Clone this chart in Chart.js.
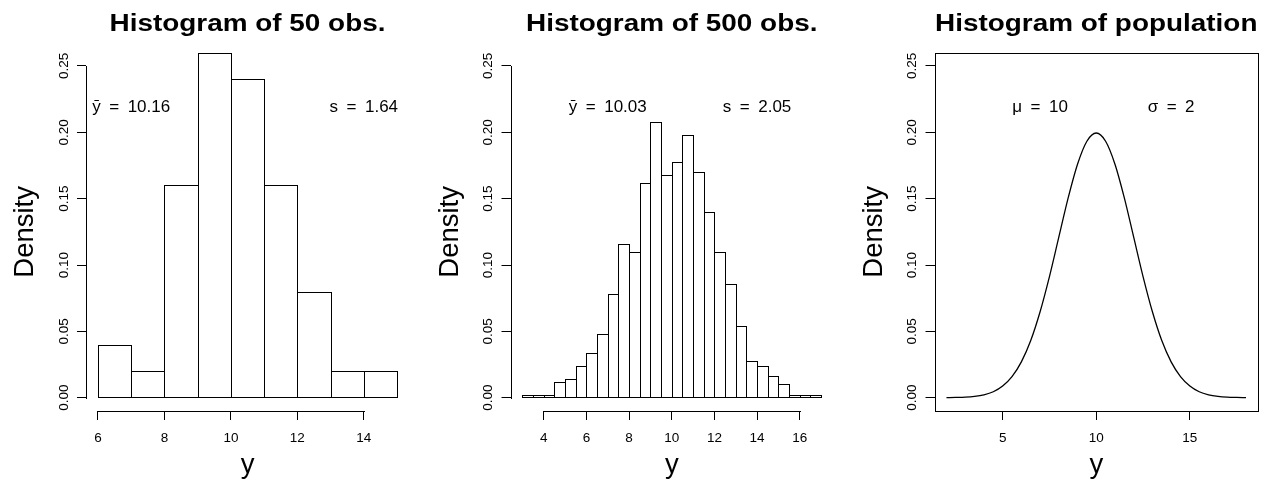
<!DOCTYPE html>
<html><head><meta charset="utf-8">
<script src="https://cdn.jsdelivr.net/npm/chart.js@4.4.1/dist/chart.umd.min.js"></script>
<style>
html,body{margin:0;padding:0;background:#fff;}
#wrap{position:relative;width:1270px;height:482px;overflow:hidden;background:#fff;}
.panel{position:absolute;top:0;left:0;width:1270px;height:482px;}
</style></head><body>
<div id="wrap">
<canvas class="panel" id="c1" width="1270" height="482"></canvas>
<canvas class="panel" id="c2" width="1270" height="482"></canvas>
<canvas class="panel" id="c3" width="1270" height="482"></canvas>
</div>
<script>
// ---------------- data ----------------
const breaks50 = [6,7,8,9,10,11,12,13,14,15];
const density50 = [0.04,0.02,0.16,0.26,0.24,0.16,0.08,0.02,0.02];

const breaks500 = [3,3.5,4,4.5,5,5.5,6,6.5,7,7.5,8,8.5,9,9.5,10,10.5,11,11.5,12,12.5,13,13.5,14,14.5,15,15.5,16,16.5,17];
const density500 = [0.002,0.002,0.002,0.012,0.014,0.024,0.034,0.048,0.078,0.116,0.110,0.162,0.208,0.168,0.178,0.198,0.170,0.140,0.110,0.086,0.054,0.028,0.024,0.016,0.010,0.002,0.002,0.002];

const popX = [2,2.5,3,3.5,4,4.5,5,5.5,6,6.5,7,7.5,8,8.5,9,9.5,10,10.5,11,11.5,12,12.5,13,13.5,14,14.5,15,15.5,16,16.5,17,17.5,18];
const popDensity = [0.0001,0.0002,0.0004,0.0010,0.0022,0.0045,0.0088,0.0159,0.0270,0.0431,0.0648,0.0913,0.1210,0.1506,0.1760,0.1933,0.1995,0.1933,0.1760,0.1506,0.1210,0.0913,0.0648,0.0431,0.0270,0.0159,0.0088,0.0045,0.0022,0.0010,0.0004,0.0002,0.0001];

const xTicks50 = [6,8,10,12,14];
const xTicks500 = [4,6,8,10,12,14,16];
const xTicksPop = [5,10,15];
const yTicks = [0,0.05,0.10,0.15,0.20,0.25];

const titles = ['Histogram of 50 obs.','Histogram of 500 obs.','Histogram of population'];
const notes50 = [{x:7,y:0.22,t:'ȳ\u2002=\u200210.16'},{x:14,y:0.22,t:'s\u2002=\u20021.64'}];
const notes500 = [{x:7,y:0.22,t:'ȳ\u2002=\u200210.03'},{x:14,y:0.22,t:'s\u2002=\u20022.05'}];
const notesPop = [{x:7,y:0.22,t:'μ\u2002=\u200210'},{x:14,y:0.22,t:'σ\u2002=\u20022'}];

// ---------------- helpers ----------------
const FONT = '"Liberation Sans", Arial, Helvetica, sans-serif';
function histPoints(breaks, dens){
  return dens.map((d,i)=>({x:(breaks[i]+breaks[i+1])/2, y:d}));
}

const rPlugin = {
  id:'rstyle',
  afterDatasetsDraw(chart, args, o){
    if(!o.outline) return;
    const ctx=chart.ctx;
    ctx.save(); ctx.strokeStyle='#000'; ctx.lineWidth=1;
    chart.getDatasetMeta(0).data.forEach(el=>{
      const p=el.getProps(['x','y','base','width'],true);
      const l=Math.round(p.x-p.width/2), r=Math.round(p.x+p.width/2);
      const t=Math.round(p.y), b=Math.round(p.base);
      ctx.strokeRect(l+0.5,t+0.5,r-l,b-t);
    });
    ctx.restore();
  },
  afterDraw(chart, args, o){
    const {ctx, chartArea:a, scales:{x,y}} = chart;
    ctx.save();
    ctx.strokeStyle='#000'; ctx.fillStyle='#000'; ctx.lineWidth=1;
    const line=(x1,y1,x2,y2)=>{ctx.beginPath();ctx.moveTo(x1,y1);ctx.lineTo(x2,y2);ctx.stroke();};
    const bx=Math.round(a.bottom)+0.5, lx=Math.round(a.left)+0.5;
    if(o.box){
      ctx.strokeRect(lx, Math.round(a.top)+0.5, Math.round(a.right)-Math.round(a.left), Math.round(a.bottom)-Math.round(a.top));
    } else {
      const xt=o.xTicks;
      line(Math.round(x.getPixelForValue(xt[0])), bx, Math.round(x.getPixelForValue(xt[xt.length-1]))+1, bx);
      line(lx, Math.round(y.getPixelForValue(yTicks[0]))+1, lx, Math.round(y.getPixelForValue(yTicks[yTicks.length-1])));
    }
    // x tick labels
    ctx.font='13.5px '+FONT; ctx.textAlign='center'; ctx.textBaseline='alphabetic';
    o.xTicks.forEach(v=>ctx.fillText(String(v), x.getPixelForValue(v), a.bottom+30.5));
    // y tick labels (rotated)
    yTicks.forEach(v=>{
      ctx.save(); ctx.translate(a.left-18.5, y.getPixelForValue(v)); ctx.rotate(-Math.PI/2);
      ctx.fillText(v.toFixed(2),0,0); ctx.restore();
    });
    // axis titles
    ctx.font='27.5px '+FONT;
    ctx.fillText('y', (a.left+a.right)/2, a.bottom+61.5);
    ctx.save(); ctx.translate(a.left-52.7, (y.getPixelForValue(yTicks[0])+y.getPixelForValue(yTicks[yTicks.length-1]))/2);
    ctx.rotate(-Math.PI/2); ctx.fillText('Density',0,0); ctx.restore();
    // main title
    ctx.save(); ctx.font='bold 24.7px '+FONT; ctx.translate((a.left+a.right)/2, 31); ctx.scale(1.13,1);
    ctx.fillText(o.title,0,0); ctx.restore();
    // annotations
    ctx.font='17px '+FONT;
    o.notes.forEach(n=>ctx.fillText(n.t, x.getPixelForValue(n.x), y.getPixelForValue(n.y)+6));
    ctx.restore();
  }
};

function scales(xmin,xmax,xTicks){
  const grid={display:true,drawOnChartArea:false,drawTicks:true,tickLength:9,color:'#000',lineWidth:1,offset:false};
  return {
    x:{type:'linear',min:xmin,max:xmax,offset:false,grid:grid,border:{display:false},
       ticks:{display:false},
       afterBuildTicks:s=>{s.ticks=xTicks.map(v=>({value:v}));},
       afterFit:s=>{s.height=0;}},
    y:{type:'linear',min:-0.01,max:0.26,grid:grid,border:{display:false},
       ticks:{display:false},
       afterBuildTicks:s=>{s.ticks=yTicks.map(v=>({value:v}));},
       afterFit:s=>{s.width=0;}}
  };
}
function pad(left,right){ return {left:left, right:1270-right, top:52.7, bottom:482-411}; }

function histChart(id, breaks, dens, xmin, xmax, xTicks, left, right, title, notes){
  return new Chart(document.getElementById(id),{
    type:'bar',
    data:{datasets:[{data:histPoints(breaks,dens),backgroundColor:'#fff',borderColor:'#000',
      borderWidth:0,barPercentage:1,categoryPercentage:1,inflateAmount:0}]},
    options:{responsive:false,animation:false,events:[],
      layout:{padding:pad(left,right)},
      scales:scales(xmin,xmax,xTicks),
      plugins:{legend:{display:false},tooltip:{enabled:false},
        rstyle:{xTicks:xTicks,title:title,notes:notes,box:false,outline:true}}},
    plugins:[rPlugin]
  });
}

histChart('c1', breaks50, density50, 5.64, 15.36, xTicks50, 86, 409, titles[0], notes50);
histChart('c2', breaks500, density500, 2.44, 17.56, xTicks500, 510.5, 833, titles[1], notes500);

new Chart(document.getElementById('c3'),{
  type:'line',
  data:{datasets:[{data:popX.map((v,i)=>({x:v,y:popDensity[i]})),borderColor:'#000',borderWidth:1.3,
    pointRadius:0,fill:false,cubicInterpolationMode:'monotone'}]},
  options:{responsive:false,animation:false,events:[],
    layout:{padding:pad(934.5,1258)},
    scales:scales(1.36,18.64,xTicksPop),
    plugins:{legend:{display:false},tooltip:{enabled:false},
      rstyle:{xTicks:xTicksPop,title:titles[2],notes:notesPop,box:true,outline:false}}},
  plugins:[rPlugin]
});
</script>
</body></html>
